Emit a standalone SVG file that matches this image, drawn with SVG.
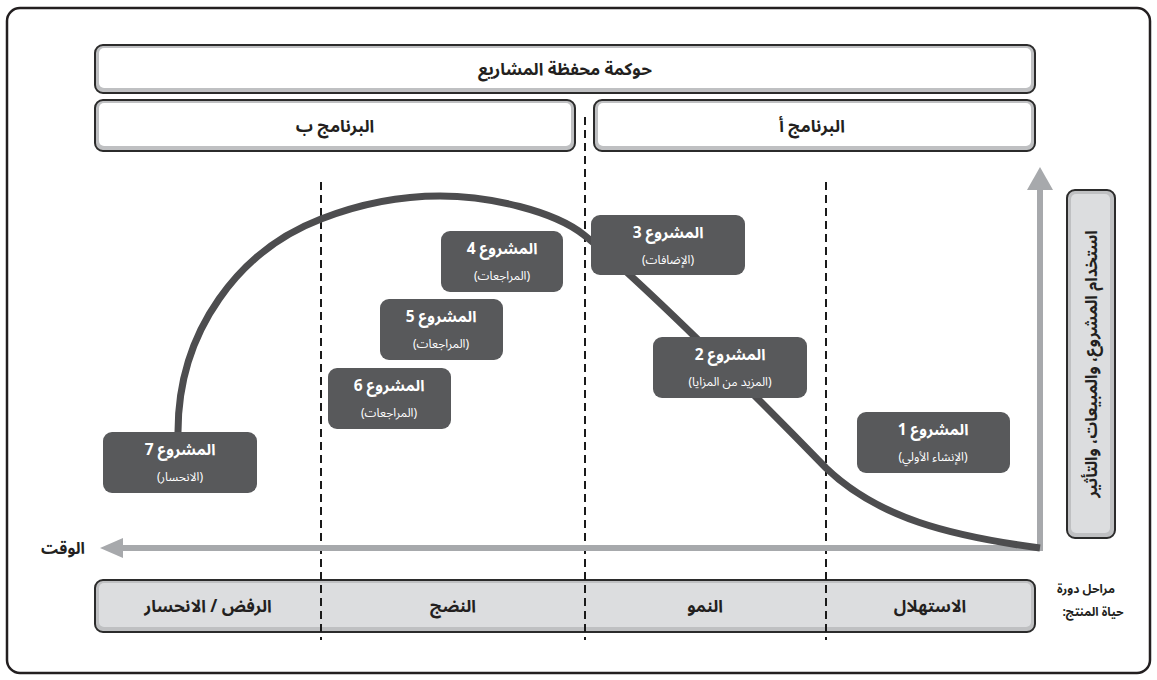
<svg xmlns="http://www.w3.org/2000/svg" width="1157" height="680" viewBox="0 0 1157 680">
<defs>
<style>
text{font-family:"Noto Sans Arabic","DejaVu Sans",sans-serif;direction:rtl;text-anchor:middle}
.lb{font-size:17px;font-weight:bold;fill:#231f20}
.pt{font-size:15.5px;font-weight:bold;fill:#fff}
.ps{font-size:12px;fill:#fff}
.sm{font-size:12px;font-weight:bold;fill:#231f20}
.outer{fill:#bfc0c2;stroke:#2b2b2b;stroke-width:2}
.inW{fill:#fff}
.inG{fill:#dcdddf}
.proj{fill:#58595b}
.dash{stroke:#1a1a1a;stroke-width:2;stroke-dasharray:8 5;fill:none}
.axis{stroke:#a7a9ac;stroke-width:6;fill:none}
</style>
</defs>
<rect x="7" y="8" width="1143" height="665" rx="13" fill="#fff" stroke="#231f20" stroke-width="2.5"/>

<g id="governance">
<rect class="outer" x="95" y="45" width="940" height="48" rx="8"/>
<rect class="inW" x="99" y="48" width="932" height="40" rx="5"/>
<text class="lb" x="565" y="75">حوكمة محفظة المشاريع</text>
</g>
<g id="programB">
<rect class="outer" x="95" y="100" width="480" height="51" rx="8"/>
<rect class="inW" x="99" y="103" width="472" height="43" rx="5"/>
<text class="lb" x="335" y="132">البرنامج ب</text>
</g>
<g id="programA">
<rect class="outer" x="594" y="100" width="441" height="51" rx="8"/>
<rect class="inW" x="598" y="103" width="433" height="43" rx="5"/>
<text class="lb" x="812" y="132">البرنامج أ</text>
</g>

<g id="phase-bar">
<rect class="outer" x="95" y="580" width="940" height="52" rx="8"/>
<rect class="inG" x="99" y="583" width="932" height="44" rx="5"/>
<text class="lb" x="208" y="612">الرفض / الانحسار</text>
<text class="lb" x="453" y="612">النضج</text>
<text class="lb" x="705" y="612">النمو</text>
<text class="lb" x="930" y="612">الاستهلال</text>
</g>
<g id="phase-label">
<text class="sm" x="1086" y="593">مراحل دورة</text>
<text class="sm" x="1093" y="616">حياة المنتج:</text>
</g>

<g id="connectors">
<line class="dash" x1="321" y1="182" x2="321" y2="640"/>
<line class="dash" x1="585" y1="117" x2="585" y2="640"/>
<line class="dash" x1="826" y1="182" x2="826" y2="640"/>
<polyline class="axis" points="1040,188 1040,548 120,548"/>
<polygon points="1040,167 1027,190 1053,190" fill="#a7a9ac"/>
<polygon points="100,548 123,538 123,558" fill="#a7a9ac"/>
<path d="M178,432 C178,330 240,250 321,219 C362,203 400,196 440,196 C490,196 554,211 584,235 C640,280 760,400 826,468 C878,518 950,536 1040,548" fill="none" stroke="#4d4d4f" stroke-width="7"/>
</g>

<g id="time-label">
<text class="lb" x="63" y="554" style="font-size:16px">الوقت</text>
</g>

<g id="usage-label">
<rect class="outer" x="1067" y="190" width="48" height="348" rx="8"/>
<rect class="inG" x="1071" y="194" width="39" height="339" rx="5"/>
<text class="lb" transform="translate(1097,364) rotate(-90)" x="0" y="0" style="font-size:16.5px">استخدام المشروع، والمبيعات، والتأثير</text>
</g>

<g id="project1">
<rect class="proj" x="857" y="412" width="153" height="61" rx="9"/>
<text class="pt" x="933" y="435">المشروع 1</text>
<text class="ps" x="933" y="461">(الإنشاء الأولي)</text>
</g>
<g id="project2">
<rect class="proj" x="653" y="337" width="154" height="61" rx="9"/>
<text class="pt" x="730" y="360">المشروع 2</text>
<text class="ps" x="730" y="386">(المزيد من المزايا)</text>
</g>
<g id="project3">
<rect class="proj" x="591" y="215" width="154" height="60" rx="9"/>
<text class="pt" x="668" y="238">المشروع 3</text>
<text class="ps" x="668" y="264">(الإضافات)</text>
</g>
<g id="project4">
<rect class="proj" x="441" y="231" width="122" height="61" rx="9"/>
<text class="pt" x="502" y="254">المشروع 4</text>
<text class="ps" x="502" y="280">(المراجعات)</text>
</g>
<g id="project5">
<rect class="proj" x="380" y="299" width="123" height="61" rx="9"/>
<text class="pt" x="441" y="322">المشروع 5</text>
<text class="ps" x="441" y="348">(المراجعات)</text>
</g>
<g id="project6">
<rect class="proj" x="328" y="368" width="123" height="61" rx="9"/>
<text class="pt" x="389" y="391">المشروع 6</text>
<text class="ps" x="389" y="417">(المراجعات)</text>
</g>
<g id="project7">
<rect class="proj" x="103" y="432" width="154" height="61" rx="9"/>
<text class="pt" x="180" y="455">المشروع 7</text>
<text class="ps" x="180" y="481">(الانحسار)</text>
</g>
</svg>
